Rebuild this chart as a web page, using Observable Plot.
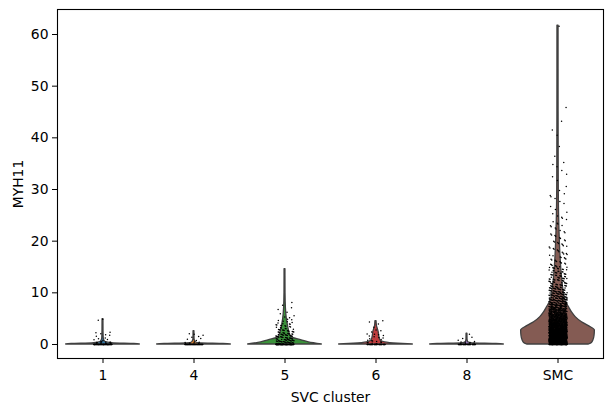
<!DOCTYPE html>
<html>
<head>
<meta charset="utf-8">
<script src="https://cdn.jsdelivr.net/npm/d3@7"></script>
<script src="https://cdn.jsdelivr.net/npm/@observablehq/plot@0.6"></script>
<style>
  html, body { margin: 0; padding: 0; background: #fff; }
  svg { display: block; }
</style>
</head>
<body>
<div id="chart"></div>
<script>
// Categories and their (desaturated tab10) fill colours
const categories = ["1", "4", "5", "6", "8", "SMC"];
const fills = ["#3274a1", "#e1812c", "#3a923a", "#c03d3e", "#9372b2", "#845b53"];
const yTicks = [0, 10, 20, 30, 40, 50, 60];

// Violin profiles: [MYH11 value, relative half-width 0..1]
const profile1 = [[0, 1], [0.1, 0.85], [0.2, 0.3], [0.4, 0.1], [0.6, 0.05], [1.2, 0.02], [2.5, 0.014], [4.9, 0.012]];
const profile4 = [[0, 1], [0.1, 0.8], [0.2, 0.2], [0.4, 0.05], [1.0, 0.015], [2.6, 0.012]];
const profile5 = [[0, 1], [0.4, 0.65], [0.8, 0.45], [1.4, 0.18], [2.3, 0.12], [3.3, 0.09], [4.9, 0.05], [7, 0.025], [10, 0.014], [14.6, 0.012]];
const profile6 = [[0, 1], [0.15, 0.6], [0.4, 0.25], [0.8, 0.12], [1.5, 0.09], [2.5, 0.07], [3.1, 0.045], [3.6, 0.025], [4.5, 0.015]];
const profile8 = [[0, 1], [0.1, 0.8], [0.2, 0.15], [0.5, 0.03], [1.0, 0.014], [2.1, 0.012]];
const profileSMC = [[0, 0.84], [0.3, 0.92], [0.8, 0.96], [1.6, 0.99], [2.7, 1], [3.5, 0.85], [4.3, 0.65], [5.3, 0.48], [6.2, 0.38], [7.2, 0.3], [8.5, 0.2], [10.4, 0.15], [13.7, 0.1], [16.8, 0.07], [20, 0.05], [25, 0.03], [32, 0.02], [45, 0.016], [61.7, 0.015]];
const profiles = [profile1, profile4, profile5, profile6, profile8, profileSMC];

// Cell counts per value range: [low, high, count]
const cells1 = [[0, 0, 60], [0.05, 0.6, 15], [0.6, 1.2, 4], [1.2, 2.5, 7], [4.4, 4.9, 2]];
const cells4 = [[0, 0, 50], [0.05, 0.5, 8], [0.5, 1.5, 4], [1.5, 2.2, 4]];
const cells5 = [[0, 0, 80], [0.05, 1, 45], [1, 2, 34], [2, 3, 24], [3, 4, 15], [4, 5, 8], [5, 6, 4], [6, 8.2, 5]];
const cells6 = [[0, 0, 40], [0.05, 1, 12], [1, 2, 8], [2, 3, 4], [3, 4.6, 4]];
const cells8 = [[0, 0, 40], [0.05, 0.6, 8], [0.6, 1.5, 3], [1.5, 2.1, 1]];
const cellsSMC = [[0, 0, 70], [0.05, 1, 230], [1, 2, 230], [2, 3, 210], [3, 4, 180], [4, 5, 150], [5, 6, 120], [6, 7, 90], [7, 8, 70], [8, 9, 55], [9, 10, 45], [10, 11, 36], [11, 12, 28], [12, 13, 24], [13, 14, 20], [14, 15, 17], [15, 17, 22], [17, 20, 22], [20, 23, 15], [23, 26, 10], [26, 30, 9], [30, 35, 7], [35, 40, 3], [40, 47, 4], [61.5, 61.8, 1]];
const cells = [cells1, cells4, cells5, cells6, cells8, cellsSMC];

const halfWidth = 0.405;   // violin max half-width in category units
const jitter = 0.1;        // strip jitter half-width in category units

const violinRows = [];
profiles.forEach((p, i) => {
  p.forEach(([v, w]) => violinRows.push({cat: categories[i], i, v, x1: i - w * halfWidth, x2: i + w * halfWidth}));
});

const frac = (t) => t - Math.floor(t);
const pointRows = [];
cells.forEach((bins, i) => {
  bins.forEach(([lo, hi, n], b) => {
    for (let k = 0; k < n; k++) {
      const v = lo === hi ? lo : lo + (hi - lo) * frac(k * 0.6180339 + 0.31 + b * 0.17);
      const x = i + (frac(k * 0.7548776 + b * 0.3712 + i * 0.13) - 0.5) * 2 * jitter;
      pointRows.push({cat: categories[i], x, v});
    }
  });
});

const chart = Plot.plot({
  width: 609,
  height: 413,
  marginLeft: 57,
  marginRight: 6,
  marginTop: 9,
  marginBottom: 55,
  style: {fontFamily: "DejaVu Sans", fontSize: "13.9px", color: "#000", background: "#fff"},
  x: {domain: [-0.5, categories.length - 0.5]},
  y: {domain: [-2.71, 64.84]},
  color: {domain: categories, range: fills},
  marks: [
    Plot.areaX(violinRows, {y: "v", x1: "x1", x2: "x2", z: "cat", fill: "cat", stroke: "#404040", strokeWidth: 1.3, curve: "monotone-y"}),
    Plot.dot(pointRows, {x: "x", y: "v", r: 0.75, fill: "#000", stroke: "none"}),
    Plot.frame({stroke: "#000", strokeWidth: 1.1}),
    Plot.axisX({ticks: categories.map((_, i) => i), tickFormat: (d) => categories[d], tickSize: 5, tickPadding: 7, label: "SVC cluster", labelAnchor: "center", labelArrow: "none", labelOffset: 43}),
    Plot.axisY({ticks: yTicks, tickSize: 5, tickPadding: 4, label: "MYH11", labelAnchor: "center", labelArrow: "none", labelOffset: 44})
  ]
});
document.getElementById("chart").appendChild(chart);
</script>
</body>
</html>
